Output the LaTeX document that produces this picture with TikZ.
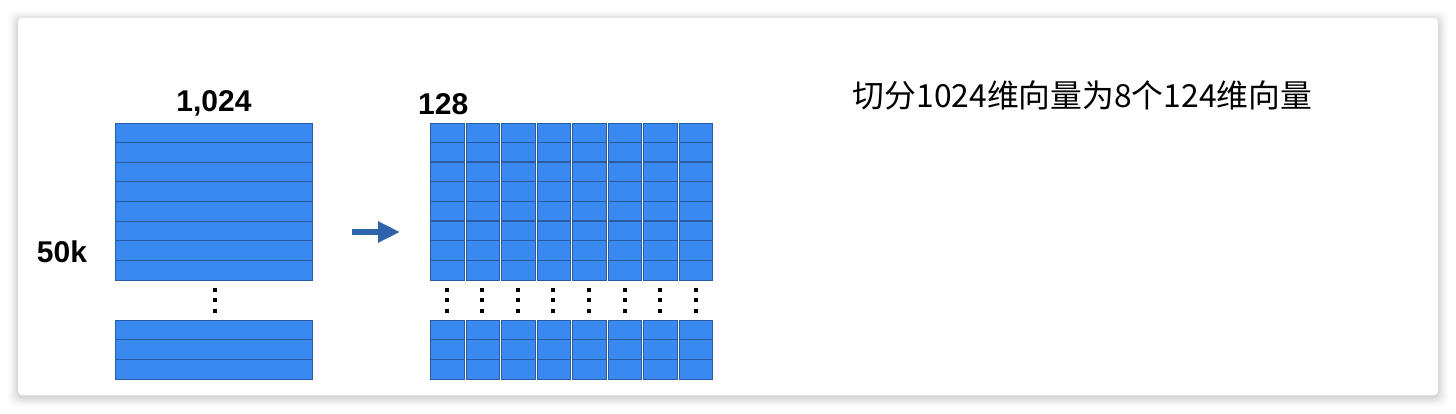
\documentclass[tikz,border=0pt]{standalone}
\usepackage{fontspec}
\setmainfont{Liberation Sans}
\newfontfamily\cjk{Noto Sans CJK SC}
\usepackage{tikz}
\usetikzlibrary{arrows.meta,positioning}
\definecolor{cellblue}{HTML}{3A89F1}
\definecolor{celledge}{HTML}{2A5AA0}
\definecolor{arrblue}{HTML}{2F63AA}

\begin{document}
\begin{tikzpicture}[x=1pt, y=-1pt, >=Stealth,
    cell/.style={fill=cellblue, draw=celledge, line width=0.8pt},
    dimlab/.style={font=\fontsize{30}{34}\selectfont\bfseries, inner sep=0},
    dotsq/.style={fill=black, minimum size=4pt, inner sep=0}]
    \useasboundingbox (0,0) rectangle (1456,413);
    % card with soft shadow
    \foreach \s/\o in {10/0.015, 8/0.02, 6/0.03, 4/0.04, 2/0.05}
        \fill[black, opacity=\o, rounded corners=8] (18-\s,18-\s+2) rectangle (1438+\s,395+\s+2);
    \fill[white, rounded corners=4] (18,18) rectangle (1438,395);

    % full matrix
    \node[cell, anchor=north west, minimum width=197pt, minimum height=157pt] (fullT) at (115,123) {};
    \foreach \r in {1,...,7} \draw[celledge, line width=1.1] (115,123+19.625*\r) -- (312,123+19.625*\r);
    \node[cell, anchor=north west, minimum width=197pt, minimum height=59pt] (fullB) at (115,320) {};
    \foreach \r in {1,2} \draw[celledge, line width=1.1] (115,320+19.67*\r) -- (312,320+19.67*\r);
    \foreach \y in {289.5,300,310.5} \node[dotsq] at (215,\y) {};

    \node[dimlab, anchor=base] (lab1024) at (214,111.5) {1,024};
    \node[dimlab, anchor=base] (lab50k) at (62,262) {50k};

    % split arrow
    \coordinate (arrS) at (352,232);
    \coordinate (arrE) at (400,232);
    \draw[arrblue, line width=6, -{Triangle[length=22pt,width=20pt]}] (arrS) -- (arrE);

    % eight sub-vectors
    \foreach \c in {0,...,7} {
        \pgfmathsetmacro{\xa}{430+35.55*\c}
        \node[cell, anchor=north west, minimum width=33.5pt, minimum height=157.3pt] (colT\c) at (\xa,122.7) {};
        \foreach \r in {1,...,7} \draw[celledge, line width=1.1] (\xa,122.7+19.66*\r) -- (\xa+33.5,122.7+19.66*\r);
        \node[cell, anchor=north west, minimum width=33.5pt, minimum height=59.5pt] (colB\c) at (\xa,319.5) {};
        \foreach \r in {1,2} \draw[celledge, line width=1.1] (\xa,319.5+19.83*\r) -- (\xa+33.5,319.5+19.83*\r);
        \foreach \y in {289.5,300,310.5} \node[dotsq] at (\xa+16.75,\y) {};
    }
    \node[dimlab, anchor=base west] (lab128) at (418,114) {128};

    \node[font=\cjk\fontsize{31.8}{36}\selectfont, inner sep=0, anchor=base] (note) at (1082.5,107) {切分1024维向量为8个124维向量};
\end{tikzpicture}
\end{document}
